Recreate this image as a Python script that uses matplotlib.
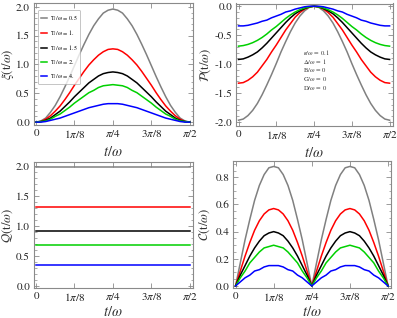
import numpy as np
import matplotlib
matplotlib.use("Agg")
import matplotlib.pyplot as plt
from matplotlib.ticker import FixedLocator, MultipleLocator

plt.rcParams['font.family'] = ['STIXGeneral', 'DejaVu Serif']
plt.rcParams['mathtext.fontset'] = 'stix'

# ---- data ----
t = np.linspace(0, np.pi / 2, 33)
labels = ["0.5", "1.", "1.5", "2.", "4."]
colors = ["#808080", "#ff0000", "#000000", "#00d000", "#0000ff"]

xi_gray = [0, 0.02, 0.07, 0.17, 0.29, 0.44, 0.61, 0.79, 0.98, 1.17, 1.35, 1.52, 1.67, 1.79, 1.89, 1.94, 1.96,
           1.94, 1.89, 1.79, 1.67, 1.52, 1.35, 1.17, 0.98, 0.79, 0.61, 0.44, 0.29, 0.17, 0.07, 0.02, 0]
xi_red = [0, 0.01, 0.05, 0.11, 0.19, 0.28, 0.39, 0.51, 0.64, 0.76, 0.88, 0.99, 1.08, 1.16, 1.22, 1.26, 1.27,
          1.26, 1.22, 1.16, 1.08, 0.99, 0.88, 0.76, 0.64, 0.51, 0.39, 0.28, 0.19, 0.11, 0.05, 0.01, 0]
xi_black = [0, 0.01, 0.03, 0.07, 0.13, 0.19, 0.27, 0.35, 0.44, 0.52, 0.60, 0.68, 0.74, 0.80, 0.84, 0.86, 0.87,
            0.86, 0.84, 0.80, 0.74, 0.68, 0.60, 0.52, 0.44, 0.35, 0.27, 0.19, 0.13, 0.07, 0.03, 0.01, 0]
xi_green = [0, 0.01, 0.02, 0.05, 0.10, 0.14, 0.20, 0.26, 0.33, 0.39, 0.45, 0.51, 0.55, 0.60, 0.63, 0.64, 0.65,
            0.64, 0.63, 0.60, 0.55, 0.51, 0.45, 0.39, 0.33, 0.26, 0.20, 0.14, 0.10, 0.05, 0.02, 0.01, 0]
xi_blue = [0, 0.00, 0.01, 0.03, 0.05, 0.07, 0.10, 0.13, 0.16, 0.19, 0.22, 0.25, 0.27, 0.29, 0.31, 0.32, 0.32,
           0.32, 0.31, 0.29, 0.27, 0.25, 0.22, 0.19, 0.16, 0.13, 0.10, 0.07, 0.05, 0.03, 0.01, 0.00, 0]

P_gray = [-1.97, -1.95, -1.89, -1.80, -1.68, -1.53, -1.36, -1.18, -0.99, -0.79, -0.61, -0.44, -0.29, -0.17, -0.08, -0.02, 0.00,
          -0.02, -0.08, -0.17, -0.29, -0.44, -0.61, -0.79, -0.99, -1.18, -1.36, -1.53, -1.68, -1.80, -1.89, -1.95, -1.97]
P_red = [-1.33, -1.32, -1.28, -1.22, -1.14, -1.03, -0.92, -0.79, -0.67, -0.54, -0.41, -0.30, -0.19, -0.11, -0.05, -0.01, 0.00,
         -0.01, -0.05, -0.11, -0.19, -0.30, -0.41, -0.54, -0.67, -0.79, -0.92, -1.03, -1.14, -1.22, -1.28, -1.32, -1.33]
P_black = [-0.92, -0.91, -0.88, -0.84, -0.79, -0.72, -0.64, -0.55, -0.46, -0.37, -0.28, -0.20, -0.13, -0.08, -0.04, -0.01, 0.00,
           -0.01, -0.04, -0.08, -0.13, -0.20, -0.28, -0.37, -0.46, -0.55, -0.64, -0.72, -0.79, -0.84, -0.88, -0.91, -0.92]
P_green = [-0.69, -0.68, -0.66, -0.63, -0.59, -0.54, -0.48, -0.41, -0.35, -0.28, -0.21, -0.15, -0.10, -0.06, -0.03, -0.01, 0.00,
           -0.01, -0.03, -0.06, -0.10, -0.15, -0.21, -0.28, -0.35, -0.41, -0.48, -0.54, -0.59, -0.63, -0.66, -0.68, -0.69]
P_blue = [-0.34, -0.34, -0.33, -0.31, -0.29, -0.26, -0.24, -0.20, -0.17, -0.14, -0.10, -0.08, -0.05, -0.03, -0.01, 0.00, 0.00,
          0.00, -0.01, -0.03, -0.05, -0.08, -0.10, -0.14, -0.17, -0.20, -0.24, -0.26, -0.29, -0.31, -0.33, -0.34, -0.34]

Q_values = [1.99, 1.32, 0.92, 0.69, 0.35]
Q_t = [0, np.pi / 2]

C_gray = [0, 0.17, 0.34, 0.49, 0.63, 0.74, 0.82, 0.87, 0.88, 0.87, 0.82, 0.74, 0.63, 0.49, 0.34, 0.17, 0,
          0.17, 0.34, 0.49, 0.63, 0.74, 0.82, 0.87, 0.88, 0.87, 0.82, 0.74, 0.63, 0.49, 0.34, 0.17, 0]
C_red = [0, 0.11, 0.22, 0.32, 0.41, 0.48, 0.53, 0.56, 0.57, 0.56, 0.53, 0.48, 0.41, 0.32, 0.22, 0.11, 0,
         0.11, 0.22, 0.32, 0.41, 0.48, 0.53, 0.56, 0.57, 0.56, 0.53, 0.48, 0.41, 0.32, 0.22, 0.11, 0]
C_black = [0, 0.08, 0.15, 0.22, 0.28, 0.33, 0.37, 0.39, 0.40, 0.39, 0.37, 0.33, 0.28, 0.22, 0.15, 0.08, 0,
           0.08, 0.15, 0.22, 0.28, 0.33, 0.37, 0.39, 0.40, 0.39, 0.37, 0.33, 0.28, 0.22, 0.15, 0.08, 0]
C_green = [0, 0.06, 0.11, 0.17, 0.21, 0.25, 0.28, 0.29, 0.30, 0.29, 0.28, 0.25, 0.21, 0.17, 0.11, 0.06, 0,
           0.06, 0.11, 0.17, 0.21, 0.25, 0.28, 0.29, 0.30, 0.29, 0.28, 0.25, 0.21, 0.17, 0.11, 0.06, 0]
C_blue = [0, 0.03, 0.06, 0.08, 0.11, 0.12, 0.14, 0.15, 0.15, 0.15, 0.14, 0.12, 0.11, 0.08, 0.06, 0.03, 0,
          0.03, 0.06, 0.08, 0.11, 0.12, 0.14, 0.15, 0.15, 0.15, 0.14, 0.12, 0.11, 0.08, 0.06, 0.03, 0]

xticks = [0, np.pi / 8, np.pi / 4, 3 * np.pi / 8, np.pi / 2]
xticklabels = ["0", r"1$\pi$/8", r"$\pi$/4", r"3$\pi$/8", r"$\pi$/2"]

params = [r"$\kappa$/$\omega$ = 0.1", r"$\Delta$/$\omega$ = 1", r"B/$\omega$ = 0",
          r"G/$\omega$ = 0", r"D/$\omega$ = 0"]

# ---- figure ----
W, H = 397, 318
fig = plt.figure(figsize=(W / 100, H / 100), dpi=100)

def px_axes(x0, y0, x1, y1):
    return fig.add_axes([x0 / W, 1 - y1 / H, (x1 - x0) / W, (y1 - y0) / H])

frame_col = "#8a8a8a"

def style(ax, ylim, ymaj, ymin, ylabel, ylab_x, xlab_y):
    ax.set_xlim(-0.026, 1.601)
    ax.set_ylim(*ylim)
    ax.xaxis.set_major_locator(FixedLocator(xticks))
    ax.set_xticklabels(xticklabels)
    ax.yaxis.set_major_locator(MultipleLocator(ymaj))
    ax.yaxis.set_minor_locator(MultipleLocator(ymin))
    ax.yaxis.set_major_formatter(matplotlib.ticker.FormatStrFormatter('%.1f'))
    for s in ax.spines.values():
        s.set_color(frame_col)
        s.set_linewidth(0.8)
    ax.tick_params(which='both', direction='in', top=True, right=True,
                   color=frame_col, labelsize=8, labelcolor='#222222', pad=2.5)
    ax.tick_params(which='major', length=3.5, width=0.6)
    ax.tick_params(which='minor', length=1.8, width=0.5)
    ax.set_xlabel(r"$t$/$\omega$", fontsize=10.5, color='#333333')
    ax.set_ylabel(ylabel, fontsize=9.2, color='#333333')
    ax.yaxis.set_label_coords(ylab_x, 0.5)
    ax.xaxis.set_label_coords(0.5, xlab_y)

lw = 1.1

# top-left
ax1 = px_axes(33.5, 2.7, 192.7, 125)
for y, c, l in zip([xi_gray, xi_red, xi_black, xi_green, xi_blue], colors, labels):
    ax1.plot(t, y, color=c, lw=lw, label=r"T$_l$/$\omega$ = " + l)
style(ax1, (-0.05, 2.07), 0.5, 0.1, r"$\xi$(t/$\omega$)", -0.11, -0.165)
leg = ax1.legend(loc='upper left', bbox_to_anchor=(0.028, 0.94), borderaxespad=0,
                 fontsize=4.4, handlelength=1.0, handletextpad=0.4, labelspacing=0.85,
                 frameon=True, fancybox=True, edgecolor='#aaaaaa', borderpad=0.5)
leg.get_frame().set_linewidth(0.6)

# top-right
ax2 = px_axes(236, 3.5, 392.5, 126)
for y, c in zip([P_gray, P_red, P_black, P_green, P_blue], colors):
    ax2.plot(t, y, color=c, lw=lw)
style(ax2, (-2.07, 0.047), 0.5, 0.1, r"$\mathcal{P}$(t/$\omega$)", -0.145, -0.165)
for i, s in enumerate(params):
    ax2.text(0.43, 0.6 - i * 0.072, s, transform=ax2.transAxes, fontsize=4.8,
             color='#333333', va='center', ha='left')

# bottom-left
ax3 = px_axes(33.5, 162, 192.7, 288)
for v, c in zip(Q_values, colors):
    ax3.plot(Q_t, [v, v], color=c, lw=lw)
style(ax3, (-0.033, 2.067), 0.5, 0.1, r"$\mathcal{Q}$(t/$\omega$)", -0.115, -0.135)

# bottom-right
ax4 = px_axes(233, 161, 391, 288)
for y, c in zip([C_gray, C_red, C_black, C_green, C_blue], colors):
    ax4.plot(t, y, color=c, lw=lw)
style(ax4, (-0.015, 0.92), 0.2, 0.05, r"$\mathcal{C}$(t/$\omega$)", -0.13, -0.135)

fig.savefig("out.png", dpi=100)
